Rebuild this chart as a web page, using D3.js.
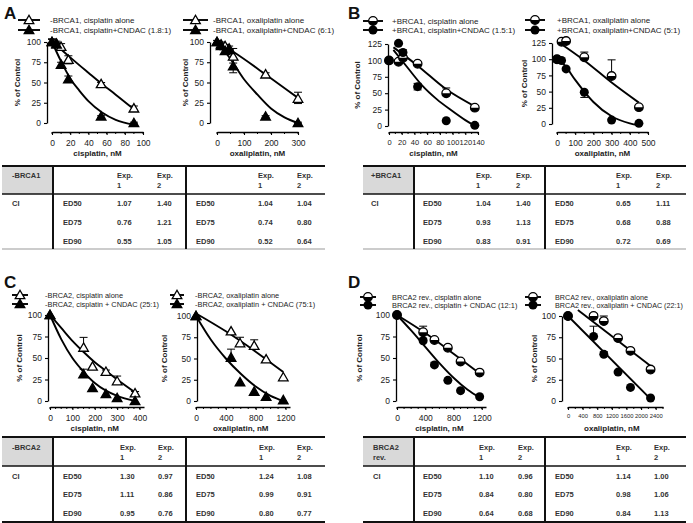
<!DOCTYPE html>
<html><head><meta charset="utf-8">
<script src="https://cdn.jsdelivr.net/npm/d3@7"></script>
<style>body{margin:0;background:#fff}text{font-family:Arial,"Liberation Sans",sans-serif}</style>
</head><body><svg id="c" width="693" height="523"></svg>
<script>
// ---------------- DATA ----------------
// Panel A left: -BRCA1 cisplatin
const A1_dose=[0,5,10,18,54,90];
const A1_alone=[100,98,94,78,48,18];
const A1_combo=[100,97,72,54,8,0];
const A1_aloneErr=[[4,4],[3,3],[4,4],[5,5],[2,2],[3,3]];
const A1_comboErr=[[3,3],[2,2],[3,3],[4,4],[1,1],[1,1]];
const A1_fitAlone=[[0,101],[20,81],[40,62],[55,48],[70,35],[90,17]];
const A1_fitCombo=[[0,100],[10,76],[20,55],[30,40],[40,27],[55,13],[70,4],[90,-2]];
// Panel A right: -BRCA1 oxaliplatin
const A2_dose=[0,15,30,45,60,180,300];
const A2_alone=[100,97,95,92,82,60,30];
const A2_combo=[100,95,89,90,70,8,0];
const A2_aloneErr=[[2,2],[3,3],[2,2],[3,3],[10,8],[2,2],[8,6]];
const A2_comboErr=[[0,0],[2,2],[3,3],[2,2],[8,8],[1,1],[1,1]];
const A2_fitAlone=[[0,100],[60,88],[180,60],[300,31]];
const A2_fitCombo=[[0,100],[50,79],[100,54],[150,35],[200,18],[250,7],[300,0]];
// Panel B left: +BRCA1 cisplatin
const B1_dose=[0,15,22,45,90,135];
const B1_alone=[100,98,104,95,50,28];
const B1_combo=[100,126,112,60,8,1];
const B1_aloneErr=[[0,0],[3,3],[3,3],[2,2],[8,2],[3,3]];
const B1_comboErr=[[0,0],[2,2],[4,4],[5,5],[1,1],[1,1]];
const B1_fitAlone=[[7,120],[45,92],[90,56],[135,30]];
const B1_fitCombo=[[7,116],[30,88],[52,62],[75,41],[98,24],[120,9],[137,-1]];
// Panel B right: +BRCA1 oxaliplatin
const B2_dose=[0,25,50,150,300,450];
const B2_alone=[100,127,128,103,74,26];
const B2_combo=[100,98,85,49,6,1];
const B2_aloneErr=[[0,0],[2,0],[2,0],[8,0],[25,0],[2,0]];
const B2_comboErr=[[0,0],[0,0],[0,0],[0,8],[0,0],[0,0]];
const B2_fitAlone=[[15,125],[150,98],[300,64],[450,33]];
const B2_fitCombo=[[0,102],[50,88],[100,68],[150,50],[200,34],[300,12],[400,1],[450,-2]];
// Panel C left: -BRCA2 cisplatin
const C1_dose=[0,150,190,250,300,380];
const C1_alone=[100,62,40,34,23,9];
const C1_combo=[100,31,15,8,3.5,0];
const C1_aloneErr=[[0,0],[12,0],[0,0],[2,2],[6,0],[2,0]];
const C1_comboErr=[[0,0],[6,0],[0,0],[0,0],[0,0],[0,0]];
const C1_fitAlone=[[0,100],[50,85],[100,70],[150,57],[200,45],[250,35],[300,25],[380,10]];
const C1_fitCombo=[[0,100],[50,72],[100,50],[150,34],[200,21],[250,12],[300,6],[380,0]];
// Panel C right: -BRCA2 oxaliplatin
const C2_dose=[0,470,590,780,940,1170];
const C2_alone=[100,82,68,65,49,28];
const C2_combo=[100,51,22,11,5,1];
const C2_aloneErr=[[0,0],[0,0],[7,0],[7,0],[0,0],[0,0]];
const C2_comboErr=[[0,0],[10,0],[0,0],[0,0],[0,0],[0,0]];
const C2_fitAlone=[[0,103],[400,82],[800,58],[1170,34]];
const C2_fitCombo=[[0,100],[200,72],[400,50],[600,32],[800,17],[1000,6],[1170,0]];
// Panel D left: BRCA2 rev. cisplatin
const D1_dose=[0,370,530,720,900,1170];
const D1_alone=[100,80,71,62,46,33];
const D1_combo=[100,70,42,24,12,5];
const D1_aloneErr=[[0,0],[7,0],[0,0],[3,0],[0,0],[0,0]];
const D1_comboErr=[[0,0],[3,0],[3,0],[0,0],[0,0],[0,0]];
const D1_fitAlone=[[0,100],[400,79],[800,55],[1170,32]];
const D1_fitCombo=[[0,100],[200,82],[400,63],[600,44],[800,27],[1000,13],[1170,4]];
// Panel D right: BRCA2 rev. oxaliplatin
const D2_dose=[0,700,980,1370,1710,2260];
const D2_alone=[100,100,94,74,59,37];
const D2_combo=[100,76,55,34,16,3.5];
const D2_aloneErr=[[0,0],[3,0],[6,0],[2,0],[0,0],[3,0]];
const D2_comboErr=[[0,0],[12,0],[3,0],[0,0],[0,0],[0,0]];
const D2_fitAlone=[[270,107],[2270,41]];
const D2_fitCombo=[[0,100],[2270,2]];

// axis ticks
const yTicks100=[0,25,50,75,100];
const yTicks125=[0,25,50,75,100,125];
const A1_xTicks=[0,20,40,60,80,100];
const A2_xTicks=[0,100,200,300];
const B1_xTicks=[0,20,40,60,80,100,120,140];
const B2_xTicks=[0,100,200,300,400,500];
const C1_xTicks=[0,100,200,300,400];
const C2_xTicks=[0,400,800,1200];
const D1_xTicks=[0,400,800,1200];
const D2_xTicks=[0,400,800,1200,1600,2000,2400];

// legend labels
const A1_legend=["-BRCA1, cisplatin alone","-BRCA1, cisplatin+CNDAC (1.8:1)"];
const A2_legend=["-BRCA1, oxaliplatin alone","-BRCA1, oxaliplatin+CNDAC (6:1)"];
const B1_legend=["+BRCA1, cisplatin alone","+BRCA1, cisplatin+CNDAC (1.5:1)"];
const B2_legend=["+BRCA1, oxaliplatin alone","+BRCA1, oxaliplatin+CNDAC (5:1)"];
const C1_legend=["-BRCA2, cisplatin alone","-BRCA2, cisplatin + CNDAC (25:1)"];
const C2_legend=["-BRCA2, oxaliplatin alone","-BRCA2, oxaliplatin + CNDAC (75:1)"];
const D1_legend=["BRCA2 rev.,  cisplatin alone","BRCA2 rev., cisplatin + CNDAC (12:1)"];
const D2_legend=["BRCA2 rev., oxaliplatin alone","BRCA2 rev., oxaliplatin + CNDAC (22:1)"];

// table values (combination index)
const edLabels=["ED50","ED75","ED90"];
const tA_cis1=["1.07","0.76","0.55"], tA_cis2=["1.40","1.21","1.05"];
const tA_oxa1=["1.04","0.74","0.52"], tA_oxa2=["1.04","0.80","0.64"];
const tB_cis1=["1.04","0.93","0.83"], tB_cis2=["1.40","1.13","0.91"];
const tB_oxa1=["0.65","0.68","0.72"], tB_oxa2=["1.11","0.88","0.69"];
const tC_cis1=["1.30","1.11","0.95"], tC_cis2=["0.97","0.86","0.76"];
const tC_oxa1=["1.24","0.99","0.80"], tC_oxa2=["1.08","0.91","0.77"];
const tD_cis1=["1.10","0.84","0.64"], tD_cis2=["0.96","0.80","0.68"];
const tD_oxa1=["1.14","0.98","0.84"], tD_oxa2=["1.00","1.06","1.13"];

// ---------------- DRAWING ----------------
const svg=d3.select("#c");

function marker(g,type,cx,cy){
  if(type==="triOpen"||type==="triFill"){
    g.append("path").attr("d",d3.symbol(d3.symbolTriangle,40)()).attr("transform",`translate(${cx},${cy+0.8})`)
      .attr("fill",type==="triOpen"?"#fff":"#000").attr("stroke","#000").attr("stroke-width",1.3);
  } else if(type==="circHalf"){
    const r=4.3;
    g.append("circle").attr("cx",cx).attr("cy",cy).attr("r",r).attr("fill","#fff").attr("stroke","#000").attr("stroke-width",1.3);
    g.append("path").attr("d",`M${cx-r},${cy}A${r},${r} 0 0,0 ${cx+r},${cy}Z`).attr("fill","#000");
  } else {
    g.append("circle").attr("cx",cx).attr("cy",cy).attr("r",4.5).attr("fill","#000");
  }
}

function chart(o){
  const g=svg.append("g");
  const x=d3.scaleLinear().domain(o.xd).range(o.xr);
  const y=d3.scaleLinear().domain(o.yd).range(o.yr);
  const fmt=d3.format("d");
  const ya=g.append("g").attr("transform",`translate(${o.ax},0)`)
    .call(d3.axisLeft(y).tickValues(o.yt).tickSize(3).tickSizeOuter(0).tickFormat(fmt));
  const xa=g.append("g").attr("transform",`translate(0,${o.ay})`)
    .call(d3.axisBottom(x).tickValues(o.xt).tickSize(3).tickSizeOuter(0).tickFormat(fmt));
  g.append("g").selectAll("line").data(o.xm).join("line")
    .attr("x1",d=>x(d)).attr("x2",d=>x(d)).attr("y1",o.ay).attr("y2",o.ay+2)
    .attr("stroke","#000").attr("stroke-width",1);
  [ya,xa].forEach(a=>{
    a.selectAll("path").attr("stroke","#000").attr("stroke-width",1.3);
    a.selectAll("line").attr("stroke","#000").attr("stroke-width",1.1);
    a.selectAll("text").attr("font-size",8.5).attr("fill","#222").attr("font-family","Arial");
  });
  xa.selectAll("text").attr("dy","0.9em").attr("font-size",o.fs||8.5);
  g.append("text").attr("x",(o.xr[0]+o.xt.map(x).slice(-1)[0])/2).attr("y",o.ay+(o.ty||24))
    .attr("text-anchor","middle").attr("font-size",8).attr("font-weight","bold").attr("fill","#222").text(o.xlabel);
  g.append("text").attr("transform",`translate(${o.lx},${(o.yr[0]+o.yr[1])/2}) rotate(-90)`)
    .attr("text-anchor","middle").attr("font-size",8).attr("font-weight","bold").attr("fill","#222").text("% of Control");
  const line=d3.line().x(d=>x(d[0])).y(d=>y(d[1])).curve(d3.curveMonotoneX);
  [o.fitA,o.fitC].forEach(f=>g.append("path").attr("d",line(f)).attr("fill","none").attr("stroke","#000").attr("stroke-width",1.9));
  const series=[{v:o.alone,e:o.aErr,m:o.mA},{v:o.combo,e:o.cErr,m:o.mC}];
  series.forEach(s=>{
    s.v.forEach((v,i)=>{
      const e=s.e[i]; const cx=x(o.dose[i]);
      if(e[0]>0||e[1]>0){
        const y1=y(v+e[0]), y2=y(v-e[1]);
        g.append("line").attr("x1",cx).attr("x2",cx).attr("y1",y1).attr("y2",y2).attr("stroke","#000").attr("stroke-width",1);
        if(e[0]>0) g.append("line").attr("x1",cx-4).attr("x2",cx+4).attr("y1",y1).attr("y2",y1).attr("stroke","#000").attr("stroke-width",1);
        if(e[1]>0) g.append("line").attr("x1",cx-4).attr("x2",cx+4).attr("y1",y2).attr("y2",y2).attr("stroke","#000").attr("stroke-width",1);
      }
    });
  });
  series.forEach(s=>s.v.forEach((v,i)=>marker(g,s.m,x(o.dose[i]),y(v))));
  o.legend.forEach((t,i)=>{
    const ly=o.legY[i];
    g.append("line").attr("x1",o.legX[0]).attr("x2",o.legX[1]).attr("y1",ly).attr("y2",ly).attr("stroke","#000").attr("stroke-width",1.9);
    marker(g,i===0?o.mA:o.mC,(o.legX[0]+o.legX[1])/2,ly);
    g.append("text").attr("x",o.legX[2]).attr("y",ly).attr("dy","0.35em").attr("font-size",o.lfs||8).attr("fill","#222").text(t);
  });
}

function range(a,b,s){return d3.range(a,b+0.001,s);}

chart({xd:[0,100],xr:[52,143],yd:[0,100],yr:[123,42],ax:47,ay:132,yt:yTicks100,xt:A1_xTicks,xm:range(0,100,10),
  xlabel:"cisplatin, nM",lx:20,dose:A1_dose,alone:A1_alone,combo:A1_combo,aErr:A1_aloneErr,cErr:A1_comboErr,
  fitA:A1_fitAlone,fitC:A1_fitCombo,mA:"triOpen",mC:"triFill",legend:A1_legend,legX:[18,40,50],legY:[20,30]});
chart({xd:[0,300],xr:[217,298],yd:[0,100],yr:[123,42],ax:210,ay:132,yt:yTicks100,xt:A2_xTicks,xm:range(0,300,50),
  xlabel:"oxaliplatin, nM",lx:188,dose:A2_dose,alone:A2_alone,combo:A2_combo,aErr:A2_aloneErr,cErr:A2_comboErr,
  fitA:A2_fitAlone,fitC:A2_fitCombo,mA:"triOpen",mC:"triFill",legend:A2_legend,legX:[183,208,213],legY:[20,30]});
chart({xd:[0,140],xr:[389,478],yd:[0,125],yr:[126,44],ax:388,ay:132,yt:yTicks125,xt:B1_xTicks,xm:range(0,140,10),fs:7.5,
  xlabel:"cisplatin, nM",lx:360,dose:B1_dose,alone:B1_alone,combo:B1_combo,aErr:B1_aloneErr,cErr:B1_comboErr,
  fitA:B1_fitAlone,fitC:B1_fitCombo,mA:"circHalf",mC:"circFill",legend:B1_legend,legX:[363,383,392],legY:[21,30]});
chart({xd:[0,500],xr:[557,648],yd:[0,125],yr:[124,43],ax:552,ay:132,yt:yTicks125,xt:B2_xTicks,xm:range(0,500,50),
  xlabel:"oxaliplatin, nM",lx:527,dose:B2_dose,alone:B2_alone,combo:B2_combo,aErr:B2_aloneErr,cErr:B2_comboErr,
  fitA:B2_fitAlone,fitC:B2_fitCombo,mA:"circHalf",mC:"circFill",legend:B2_legend,legX:[525,545,557],legY:[20,30]});
chart({xd:[0,420],xr:[50,144],yd:[0,100],yr:[401,315],ax:48,ay:407,yt:yTicks100,xt:C1_xTicks,xm:range(0,420,25),
  xlabel:"cisplatin, nM",lx:22,ty:24,dose:C1_dose,alone:C1_alone,combo:C1_combo,aErr:C1_aloneErr,cErr:C1_comboErr,
  fitA:C1_fitAlone,fitC:C1_fitCombo,mA:"triOpen",mC:"triFill",legend:C1_legend,legX:[12,28,45],legY:[295,304],lfs:7.4});
chart({xd:[0,1260],xr:[196,290],yd:[0,100],yr:[401,316],ax:197,ay:407,yt:yTicks100,xt:C2_xTicks,xm:range(0,1260,100),
  xlabel:"oxaliplatin, nM",lx:167,ty:24,dose:C2_dose,alone:C2_alone,combo:C2_combo,aErr:C2_aloneErr,cErr:C2_comboErr,
  fitA:C2_fitAlone,fitC:C2_fitCombo,mA:"triOpen",mC:"triFill",legend:C2_legend,legX:[170,184,195],legY:[295,304],lfs:7.4});
chart({xd:[0,1260],xr:[397,486],yd:[0,100],yr:[401,315],ax:396,ay:407,yt:yTicks100,xt:D1_xTicks,xm:range(0,1260,100),
  xlabel:"cisplatin, nM",lx:362,ty:24,dose:D1_dose,alone:D1_alone,combo:D1_combo,aErr:D1_aloneErr,cErr:D1_comboErr,
  fitA:D1_fitAlone,fitC:D1_fitCombo,mA:"circHalf",mC:"circFill",legend:D1_legend,legX:[360,376,392],legY:[297,305],lfs:7.4});
chart({xd:[0,2600],xr:[568,663],yd:[0,100],yr:[401,316],ax:562,ay:407,yt:yTicks100,xt:D2_xTicks,xm:range(0,2600,200),fs:5.8,
  xlabel:"oxaliplatin, nM",lx:537,ty:24,dose:D2_dose,alone:D2_alone,combo:D2_combo,aErr:D2_aloneErr,cErr:D2_comboErr,
  fitA:D2_fitAlone,fitC:D2_fitCombo,mA:"circHalf",mC:"circFill",legend:D2_legend,legX:[525,541,555],legY:[297,305],lfs:7.2});

[["A",4,19],["B",348,19],["C",4,288],["D",348,288]].forEach(p=>
  svg.append("text").attr("x",p[1]).attr("y",p[2]).attr("font-size",17).attr("font-weight","bold").attr("fill","#111").text(p[0]));

function table(t){
  const g=svg.append("g");
  const fs=7.5, col="#333";
  g.append("rect").attr("x",t.gx[0]).attr("y",t.top).attr("width",t.gx[1]-t.gx[0]).attr("height",t.hb-t.top).attr("fill","#d9d9d9");
  g.append("line").attr("x1",t.gx[0]).attr("x2",t.end).attr("y1",t.top).attr("y2",t.top).attr("stroke","#111").attr("stroke-width",2);
  g.append("line").attr("x1",t.gx[0]).attr("x2",t.end).attr("y1",t.hb).attr("y2",t.hb).attr("stroke","#111").attr("stroke-width",1.5);
  g.append("line").attr("x1",t.gx[0]).attr("x2",t.end).attr("y1",t.bot).attr("y2",t.bot).attr("stroke",t.botCol).attr("stroke-width",t.botW);
  t.vx.forEach(vx=>g.append("line").attr("x1",vx).attr("x2",vx).attr("y1",t.top).attr("y2",t.bot).attr("stroke","#111").attr("stroke-width",2));
  const txt=(x,y,s)=>g.append("text").attr("x",x).attr("y",y).attr("font-size",fs).attr("font-weight","bold").attr("fill",col).text(s);
  t.label.forEach((s,i)=>txt(t.cx[0],t.hy[0]+i*10,s));
  [t.cx[2],t.cx[3],t.cx[5],t.cx[6]].forEach((cx,i)=>{txt(cx,t.hy[0],"Exp.");txt(cx,t.hy[1],i%2===0?"1":"2");});
  txt(t.cx[0],t.ry[0],"CI");
  edLabels.forEach((s,i)=>{
    txt(t.cx[1],t.ry[i],s); txt(t.cx[4],t.ry[i],s);
    txt(t.cx[2],t.ry[i],t.v[0][i]); txt(t.cx[3],t.ry[i],t.v[1][i]);
    txt(t.cx[5],t.ry[i],t.v[2][i]); txt(t.cx[6],t.ry[i],t.v[3][i]);
  });
}
table({gx:[2,53],end:325,top:166,hb:194,bot:249,botCol:"#999",botW:1,vx:[53,186],label:["-BRCA1"],
  hy:[178,188],ry:[206,225,244],cx:[12,63,117,157,196,258,297],v:[tA_cis1,tA_cis2,tA_oxa1,tA_oxa2]});
table({gx:[363,414],end:686,top:166,hb:194,bot:249,botCol:"#999",botW:1,vx:[414,545],label:["+BRCA1"],
  hy:[178,188],ry:[206,225,244],cx:[371,423,476,516,555,616,656],v:[tB_cis1,tB_cis2,tB_oxa1,tB_oxa2]});
table({gx:[2,53],end:325,top:437,hb:466,bot:522,botCol:"#111",botW:2,vx:[53,186],label:["-BRCA2"],
  hy:[450,460],ry:[479,497,516],cx:[12,63,120,158,196,259,297],v:[tC_cis1,tC_cis2,tC_oxa1,tC_oxa2]});
table({gx:[363,414],end:686,top:437,hb:466,bot:522,botCol:"#111",botW:2,vx:[414,545],label:["BRCA2","rev."],
  hy:[450,460],ry:[479,497,516],cx:[373,423,479,518,555,616,654],v:[tD_cis1,tD_cis2,tD_oxa1,tD_oxa2]});
</script></body></html>
